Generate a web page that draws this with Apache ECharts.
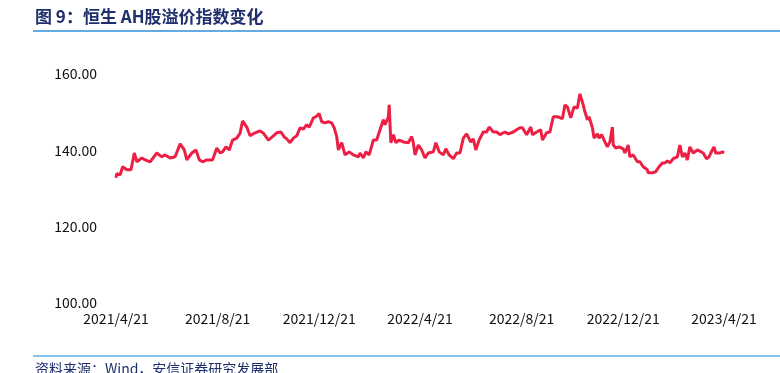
<!DOCTYPE html>
<html>
<head>
<meta charset="utf-8">
<script src="https://cdn.jsdelivr.net/npm/echarts@6/dist/echarts.min.js"></script>
<style>
html,body{margin:0;padding:0;background:#fff;}
#main{width:780px;height:373px;}
</style>
</head>
<body>
<div id="main"></div>
<script>
var titleText = '图 9：恒生 AH股溢价指数变化';
var sourceText = '资料来源：Wind，安信证券研究发展部';
var xTickLabels = ['2021-04-21','2021-08-21','2021-12-21','2022-04-21','2022-08-21','2022-12-21','2023-04-21'];
var yTicks = [100, 120, 140, 160];

var dates = [
'2021-04-21','2021-04-22','2021-04-26','2021-04-29','2021-05-04','2021-05-09','2021-05-13','2021-05-16','2021-05-22','2021-05-26',
'2021-06-01','2021-06-09','2021-06-15','2021-06-19','2021-06-25','2021-07-01','2021-07-07','2021-07-12','2021-07-15','2021-07-21',
'2021-07-26','2021-07-30','2021-08-03','2021-08-08','2021-08-15','2021-08-20','2021-08-24','2021-08-27','2021-08-31','2021-09-04',
'2021-09-08','2021-09-13','2021-09-17','2021-09-20','2021-09-25','2021-09-29','2021-10-05','2021-10-11','2021-10-15','2021-10-21',
'2021-10-27','2021-10-31','2021-11-05','2021-11-09','2021-11-12','2021-11-16','2021-11-20','2021-11-24','2021-11-28','2021-12-02',
'2021-12-06','2021-12-09','2021-12-14','2021-12-17','2021-12-21','2021-12-24','2021-12-28','2022-01-01','2022-01-05','2022-01-08',
'2022-01-11','2022-01-13','2022-01-15','2022-01-17','2022-01-21','2022-01-26','2022-01-31','2022-02-06','2022-02-08','2022-02-12',
'2022-02-15','2022-02-19','2022-02-24','2022-02-28','2022-03-04','2022-03-08','2022-03-10','2022-03-14','2022-03-15','2022-03-17',
'2022-03-20','2022-03-23','2022-03-27','2022-04-01','2022-04-07','2022-04-11','2022-04-13','2022-04-15','2022-04-19','2022-04-23',
'2022-04-27','2022-05-01','2022-05-07','2022-05-10','2022-05-14','2022-05-19','2022-05-22','2022-05-26','2022-05-31','2022-06-04',
'2022-06-08','2022-06-12','2022-06-16','2022-06-21','2022-06-24','2022-06-27','2022-07-01','2022-07-06','2022-07-10','2022-07-13',
'2022-07-18','2022-07-22','2022-07-26','2022-08-01','2022-08-05','2022-08-11','2022-08-15','2022-08-19','2022-08-22','2022-08-27',
'2022-09-01','2022-09-03','2022-09-08','2022-09-13','2022-09-15','2022-09-20','2022-09-24','2022-09-28','2022-10-03','2022-10-09',
'2022-10-12','2022-10-15','2022-10-19','2022-10-23','2022-10-27','2022-10-30','2022-11-03','2022-11-05','2022-11-08','2022-11-10',
'2022-11-14','2022-11-16','2022-11-20','2022-11-22','2022-11-25','2022-11-29','2022-12-02','2022-12-05','2022-12-08','2022-12-09',
'2022-12-12','2022-12-16','2022-12-21','2022-12-23','2022-12-27','2022-12-29','2023-01-02','2023-01-07','2023-01-10','2023-01-14',
'2023-01-19','2023-01-20','2023-01-25','2023-01-29','2023-02-02','2023-02-06','2023-02-09','2023-02-12','2023-02-15','2023-02-19',
'2023-02-24','2023-02-27','2023-03-02','2023-03-05','2023-03-08','2023-03-11','2023-03-15','2023-03-20','2023-03-22','2023-03-27',
'2023-03-31','2023-04-03','2023-04-07','2023-04-09','2023-04-11','2023-04-16','2023-04-19','2023-04-21'
];
var premiumIndex = [
132.8,133.9,133.6,135.7,134.9,134.9,139.3,137.0,138.0,137.5,
137.0,139.3,138.3,138.8,138.0,138.3,141.7,140.1,137.5,139.3,
140.1,137.5,137.0,137.5,137.5,140.6,139.3,139.6,140.9,140.1,
142.7,143.2,144.5,147.7,146.1,143.8,144.6,145.1,144.5,142.7,
143.8,144.6,144.8,143.5,143.0,142.0,143.2,143.8,145.9,145.6,
146.7,146.1,148.5,148.8,149.6,147.5,147.2,147.5,147.2,145.9,
143.6,140.1,139.6,142.0,138.8,139.6,138.8,138.3,139.3,138.0,
139.6,138.8,142.7,142.7,145.4,148.0,146.7,148.8,151.9,142.0,
144.1,142.0,142.7,142.2,142.0,143.6,142.0,138.8,141.4,140.1,
138.0,139.3,139.6,142.0,139.6,138.8,140.4,138.8,137.8,139.3,
139.3,143.2,144.3,142.2,143.0,140.1,142.7,144.8,144.8,146.1,
144.8,144.8,144.1,144.8,144.3,144.8,145.4,145.9,145.9,144.1,
146.1,144.1,144.8,145.4,142.7,144.6,144.8,148.8,148.8,148.3,
151.9,151.4,148.5,151.4,151.1,154.8,151.9,150.1,148.0,148.8,
145.9,143.2,144.3,143.2,144.1,142.2,140.9,142.2,146.1,141.4,
140.6,140.9,140.4,139.3,141.4,138.3,138.8,137.0,137.0,135.7,
134.9,134.1,134.1,134.4,135.7,136.7,136.7,137.2,136.7,137.8,
138.3,141.4,138.3,139.3,137.5,140.9,139.3,140.1,139.6,139.3,
137.8,138.3,140.1,140.9,139.3,139.3,139.6,139.3
];

var chart = echarts.init(document.getElementById('main'));
function ts(s){ var p = s.split('-'); return Date.UTC(+p[0], +p[1]-1, +p[2]); }
var seriesData = dates.map(function(d, i){ return [ts(d), premiumIndex[i]]; });
var labelFont = '"Noto Sans CJK SC", "DejaVu Sans", sans-serif';

chart.setOption({
  animation: false,
  backgroundColor: '#ffffff',
  grid: { left: 116, right: 56, top: 74, bottom: 70 },
  xAxis: {
    type: 'value',
    min: ts(xTickLabels[0]),
    max: ts(xTickLabels[xTickLabels.length-1]),
    axisLine: { show: false },
    axisTick: { show: false },
    splitLine: { show: false },
    axisLabel: {
      customValues: xTickLabels.map(ts),
      margin: 9,
      color: '#111',
      fontSize: 14,
      fontFamily: labelFont,
      formatter: function(v){ var d = new Date(v); return d.getUTCFullYear() + '/' + (d.getUTCMonth()+1) + '/' + d.getUTCDate(); }
    }
  },
  yAxis: {
    type: 'value',
    min: yTicks[0],
    max: yTicks[yTicks.length-1],
    interval: 20,
    axisLine: { show: false },
    axisTick: { show: false },
    splitLine: { show: false },
    axisLabel: {
      margin: 19,
      color: '#111',
      fontSize: 14,
      fontFamily: labelFont,
      formatter: function(v){ return v.toFixed(2); }
    }
  },
  series: [{
    type: 'line',
    data: seriesData,
    showSymbol: false,
    smooth: false,
    lineStyle: { color: '#ec1f44', width: 3 },
    itemStyle: { color: '#ec1f44' }
  }],
  graphic: [
    { type: 'text', left: 35, top: 8, style: { text: titleText, fill: '#1f2f6b', font: 'bold 17px "Noto Sans CJK SC", sans-serif' } },
    { type: 'line', shape: { x1: 33, y1: 31, x2: 780, y2: 31 }, style: { stroke: '#2f8fd6', lineWidth: 1.5 } },
    { type: 'line', shape: { x1: 33, y1: 356, x2: 780, y2: 356 }, style: { stroke: '#5aaee6', lineWidth: 1.5 } },
    { type: 'text', left: 35, top: 362, style: { text: sourceText, fill: '#1f2f6b', font: '14px "Noto Sans CJK SC", sans-serif' } }
  ]
});
</script>
</body>
</html>
